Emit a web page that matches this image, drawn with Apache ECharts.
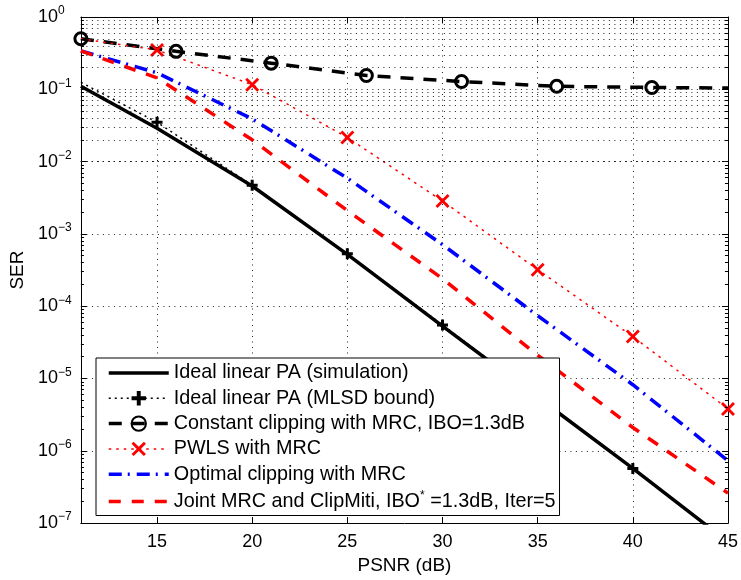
<!DOCTYPE html>
<html><head><meta charset="utf-8">
<script src="https://cdn.jsdelivr.net/npm/echarts@6/dist/echarts.min.js"></script>
<style>html,body{margin:0;padding:0;background:#fff}#c{width:741px;height:580px}</style>
</head><body><div id="c"></div>
<script>
// ---- data ----
const psnr      = [11, 15, 20, 25, 30, 35, 40, 45];
const serSim    = [0.11, 0.029, 4.6e-3, 5.2e-4, 5.3e-5, 5.5e-6, 5.7e-7, 5.5e-8];
const serMlsd   = [0.125, 0.035, 4.7e-3, 5.3e-4, 5.5e-5, 5.6e-6, 5.7e-7, 5.7e-8];
const psnrConst = [11, 16, 21, 26, 31, 36, 41, 45];
const serConst  = [0.50, 0.335, 0.23, 0.155, 0.128, 0.11, 0.106, 0.104];
const serPwls   = [0.50, 0.35, 0.116, 0.0216, 2.85e-3, 3.2e-4, 3.8e-5, 3.8e-6];
const serOpt    = [0.34, 0.169, 0.039, 5.9e-3, 7.1e-4, 7.4e-5, 8.2e-6, 7.3e-7];
const serJoint  = [0.34, 0.144, 0.020, 2.1e-3, 2.4e-4, 2.1e-5, 2.1e-6, 2.6e-7];
const seriesNames = [
  'Ideal linear PA (simulation)',
  'Ideal linear PA (MLSD bound)',
  'Constant clipping with MRC, IBO=1.3dB',
  'PWLS with MRC',
  'Optimal clipping with MRC',
  'Joint MRC and ClipMiti, IBO* =1.3dB, Iter=5'
];
const xAxisTitle = 'PSNR (dB)';
const yAxisTitle = 'SER';
// points drawn without a marker (index into each series)
const mlsdNoMarker  = [0, 7];
const constNoMarker = [7];
const pwlsNoMarker  = [0];
// legend entries that show a line only
const legendLineOnly = [0, 4, 5];

const FONT = '"Liberation Sans", Arial, Helvetica, sans-serif';
function pts(xs, ys, noMarker) {
  return xs.map((x, i) => {
    const d = { value: [x, ys[i]] };
    if (noMarker && noMarker.indexOf(i) >= 0) d.symbol = 'none';
    return d;
  });
}
const PLUS = 'path://M4,0H7V4H11V7H7V11H4V7H0V4H4Z';
const CROSS = 'path://M2,0L7,5L12,0L14,2L9,7L14,12L12,14L7,9L2,14L0,12L5,7L0,2Z';

// series line styles
const lineStyles = [
  { color: '#000', width: 3.5, type: 'solid' },
  { color: '#000', width: 1.5, type: [2, 4] },
  { color: '#000', width: 3.5, type: [13, 10] },
  { color: '#ff0000', width: 1.5, type: [2.5, 5] },
  { color: '#0000ff', width: 3.5, type: [13, 6, 2, 7] },
  { color: '#ff0000', width: 3.5, type: [12, 11] }
];

// minor log grid and ticks
const minorVals = [];
for (let k = -7; k <= -1; k++) for (let m = 2; m <= 9; m++) minorVals.push(+(m * Math.pow(10, k)).toPrecision(3));
const tickLen = 0.16;
const gridStyle = { type: [1, 4.5], color: '#222', width: 1 };
const markData = [];
minorVals.forEach(v => {
  markData.push({ yAxis: v, lineStyle: gridStyle });
  markData.push([{ coord: [11, v], lineStyle: { type: 'solid', color: '#000', width: 1 } }, { coord: [11 + tickLen, v] }]);
  markData.push([{ coord: [45 - tickLen, v], lineStyle: { type: 'solid', color: '#000', width: 1 } }, { coord: [45, v] }]);
});

const chart = echarts.init(document.getElementById('c'), null, { renderer: 'canvas' });
const axisLineStyle = { color: '#000', width: 1 };
chart.setOption({
  animation: false,
  backgroundColor: '#fff',
  textStyle: { fontFamily: FONT },
  grid: { left: 80, right: 12, top: 17, bottom: 54, containLabel: false, show: false },
  legend: {
    z: 20,
    data: seriesNames.map((n, i) => {
      const d = { name: n, lineStyle: { width: lineStyles[i].width, type: lineStyles[i].type, color: lineStyles[i].color } };
      if (legendLineOnly.indexOf(i) >= 0) d.itemStyle = { opacity: 0 };
      return d;
    }),
    orient: 'vertical',
    left: 96, top: 358,
    itemWidth: 60, itemHeight: 18, itemGap: 5.3,
    padding: [5, 4, 2, 11],
    borderColor: '#000', borderWidth: 1, backgroundColor: '#fff',
    textStyle: { fontSize: 19.8, fontFamily: FONT, color: '#000', lineHeight: 20,
      rich: { sup: { fontSize: 12, fontFamily: FONT, color: '#000', verticalAlign: 'top', lineHeight: 24 } } },
    formatter: n => n.replace('IBO* ', 'IBO{sup|*} ')
  },
  xAxis: [{
    type: 'value', min: 11, max: 45, splitNumber: 7,
    axisLine: { lineStyle: axisLineStyle },
    axisTick: { inside: true, length: 6, lineStyle: axisLineStyle },
    axisLabel: { fontSize: 18, color: '#000', fontFamily: FONT, margin: 10, showMinLabel: false },
    splitLine: { show: true, lineStyle: gridStyle },
    name: xAxisTitle, nameLocation: 'middle', nameGap: 30,
    nameTextStyle: { fontSize: 19, color: '#000', fontFamily: FONT }
  }, {
    type: 'value', min: 11, max: 45, splitNumber: 7, position: 'top',
    axisLine: { lineStyle: axisLineStyle },
    axisTick: { inside: true, length: 6, lineStyle: axisLineStyle },
    axisLabel: { show: false }, splitLine: { show: false }
  }],
  yAxis: [{
    type: 'log', logBase: 10, min: 1e-7, max: 1,
    axisLine: { show: true, lineStyle: axisLineStyle },
    axisTick: { show: true, inside: true, length: 6, lineStyle: axisLineStyle },
    axisLabel: {
      align: 'left', margin: 43, color: '#000',
      formatter: v => { const e = Math.round(Math.log10(v)); return '{b|10}{s|' + (e < 0 ? '\u2212' + (-e) : e) + '}'; },
      rich: {
        b: { fontSize: 18, fontFamily: FONT, color: '#000', lineHeight: 24 },
        s: { fontSize: 12, fontFamily: FONT, color: '#000', verticalAlign: 'top', lineHeight: 24 }
      }
    },
    splitLine: { show: true, lineStyle: gridStyle },
    name: yAxisTitle, nameLocation: 'middle', nameGap: 52, nameRotate: 90,
    nameTextStyle: { fontSize: 19, color: '#000', fontFamily: FONT }
  }, {
    type: 'log', logBase: 10, min: 1e-7, max: 1, position: 'right',
    axisLine: { show: true, lineStyle: axisLineStyle },
    axisTick: { show: true, inside: true, length: 6, lineStyle: axisLineStyle },
    axisLabel: { show: false }, splitLine: { show: false }
  }],
  series: [
    { type: 'line', name: '__grid', data: [], silent: true, z: 1,
      markLine: { silent: true, symbol: 'none', label: { show: false }, animation: false, data: markData } },
    { type: 'line', name: seriesNames[0], data: pts(psnr, serSim), symbol: 'none', z: 2,
      itemStyle: { color: '#000' }, lineStyle: lineStyles[0] },
    { type: 'line', name: seriesNames[1], data: pts(psnr, serMlsd, mlsdNoMarker), symbol: PLUS, symbolSize: 11, z: 3,
      itemStyle: { color: '#000' }, lineStyle: lineStyles[1] },
    { type: 'line', name: seriesNames[2], data: pts(psnrConst, serConst, constNoMarker), symbol: 'circle', symbolSize: 12, z: 3,
      itemStyle: { color: 'transparent', borderColor: '#000', borderWidth: 3 },
      lineStyle: lineStyles[2] },
    { type: 'line', name: seriesNames[3], data: pts(psnr, serPwls, pwlsNoMarker), symbol: CROSS, symbolSize: 14, z: 3,
      itemStyle: { color: '#ff0000' }, lineStyle: lineStyles[3] },
    { type: 'line', name: seriesNames[4], data: pts(psnr, serOpt), symbol: 'none', z: 2,
      itemStyle: { color: '#0000ff' }, lineStyle: lineStyles[4] },
    { type: 'line', name: seriesNames[5], data: pts(psnr, serJoint), symbol: 'none', z: 2,
      itemStyle: { color: '#ff0000' }, lineStyle: lineStyles[5] }
  ]
});
</script></body></html>
